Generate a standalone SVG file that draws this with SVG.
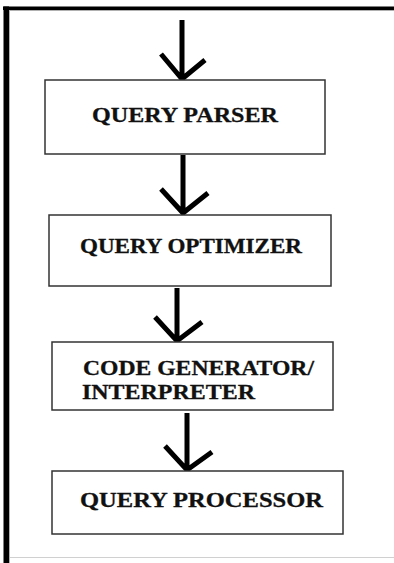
<svg xmlns="http://www.w3.org/2000/svg" width="394" height="563" viewBox="0 0 394 563">
  <style>
    .box { fill: #ffffff; stroke: #333333; stroke-width: 1.5; }
    .lbl { font-family: "Liberation Serif", "Times New Roman", serif; font-weight: bold; fill: #111111; stroke: #111111; stroke-width: 0.3; }
    .arrow { fill: none; stroke: #000000; stroke-width: 5; stroke-linejoin: miter; stroke-linecap: butt; }
    .frame { fill: #000000; }
  </style>
  <rect width="394" height="563" fill="#ffffff"/>

  <!-- page frame -->
  <g id="frame">
    <rect class="frame" x="3" y="6.5" width="391" height="3.5"/>
    <rect class="frame" x="3.5" y="6.5" width="5.5" height="556.5"/>
    <line x1="10" y1="10.5" x2="394" y2="10.5" stroke="#b0b0b0" stroke-width="1"/>
    <line x1="9.5" y1="10" x2="9.5" y2="563" stroke="#b0b0b0" stroke-width="1"/>
    <line x1="10" y1="557.5" x2="394" y2="557.5" stroke="#d0d0d0" stroke-width="1"/>
  </g>

  <!-- connectors -->
  <g id="connectors">
    <path class="arrow" d="M182,20 V79 M161,54 L182,79 L205,60"/>
    <path class="arrow" d="M183,155 V213 M161,189 L183,213 L208,193"/>
    <path class="arrow" d="M177,288 V341 M155,317 L177,341 L202,322"/>
    <path class="arrow" d="M187,413 V470 M165,446 L187,470 L212,452"/>
  </g>

  <g id="query-parser">
    <rect class="box" x="45" y="80" width="280" height="74"/>
    <text class="lbl" x="92" y="122" font-size="22" textLength="186" lengthAdjust="spacingAndGlyphs">QUERY PARSER</text>
  </g>

  <g id="query-optimizer">
    <rect class="box" x="49" y="215" width="282" height="71"/>
    <text class="lbl" x="80" y="253" font-size="21" textLength="222" lengthAdjust="spacingAndGlyphs">QUERY OPTIMIZER</text>
  </g>

  <g id="code-generator">
    <rect class="box" x="52" y="342" width="281" height="68"/>
    <text class="lbl" x="83" y="375" font-size="21" textLength="231" lengthAdjust="spacingAndGlyphs">CODE GENERATOR/</text>
    <text class="lbl" x="82" y="399" font-size="21" textLength="173" lengthAdjust="spacingAndGlyphs">INTERPRETER</text>
  </g>

  <g id="query-processor">
    <rect class="box" x="52" y="471" width="291" height="63"/>
    <text class="lbl" x="80" y="507" font-size="21" textLength="243" lengthAdjust="spacingAndGlyphs">QUERY PROCESSOR</text>
  </g>
</svg>
